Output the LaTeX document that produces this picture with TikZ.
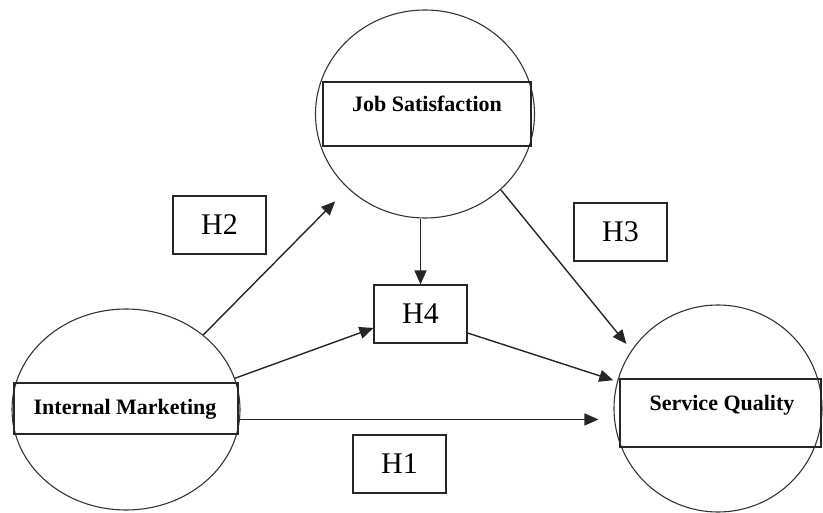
\documentclass[tikz,border=0pt]{standalone}
\usepackage{fontspec}
\setmainfont{Liberation Serif}
\usetikzlibrary{shapes.geometric,arrows.meta}

\begin{document}
\begin{tikzpicture}[x=1pt,y=-1pt,every node/.style={inner sep=0pt},
    latent/.style={draw=black!80,line width=1.1pt,ellipse},
    namebox/.style={draw=black!85,line width=1.1pt,rectangle},
    namefont/.style={font=\bfseries\fontsize{22}{22}\selectfont,anchor=base},
    hbox/.style={draw=black!85,line width=1.2pt,minimum width=93pt,minimum height=58pt,
      font=\fontsize{30}{30}\selectfont},
    link/.style={draw=black!85,line width=1.4pt,-{Triangle[length=14pt,width=12pt]}}]
  \useasboundingbox (0,0) rectangle (823,513);
  \node[latent,minimum width=228pt,minimum height=201pt] (im) at (126,409.5) {};
  \node[latent,minimum width=219pt,minimum height=208pt] (js) at (425,114) {};
  \node[latent,minimum width=208pt,minimum height=207pt] (sq) at (718,408.5) {};
  \node[namebox,minimum width=224pt,minimum height=51pt] (imbox) at (126,408.5) {};
  \node[namebox,minimum width=208pt,minimum height=64pt] (jsbox) at (427,114) {};
  \node[namebox,minimum width=201pt,minimum height=68pt] (sqbox) at (720.5,413) {};
  \node[namefont] (imtext) at (125,414) {Internal Marketing};
  \node[namefont] (jstext) at (427,112) {Job Satisfaction};
  \node[namefont] (sqtext) at (722,410) {Service Quality};
  \node[hbox] (h1) at (399.5,464) {H1};
  \node[hbox] (h2) at (219.5,225) {H2};
  \node[hbox] (h3) at (620.5,232) {H3};
  \node[hbox] (h4) at (420.5,314) {H4};
  \draw[link,shorten >=18pt] (im.44) -- (js.224);
  \draw[link] (im.16) -- ([yshift=-14pt]h4.west);
  \draw[link] (h4.north |- js.south) -- (h4.north);
  \draw[link,shorten >=8pt] (js.-45) -- (sq.146);
  \draw[link,shorten >=4pt] ([yshift=-19pt]h4.east) -- (sq.165);
  \draw[link,shorten >=15pt] (im.-5) -- (im.-5 -| sq.west);
\end{tikzpicture}
\end{document}
